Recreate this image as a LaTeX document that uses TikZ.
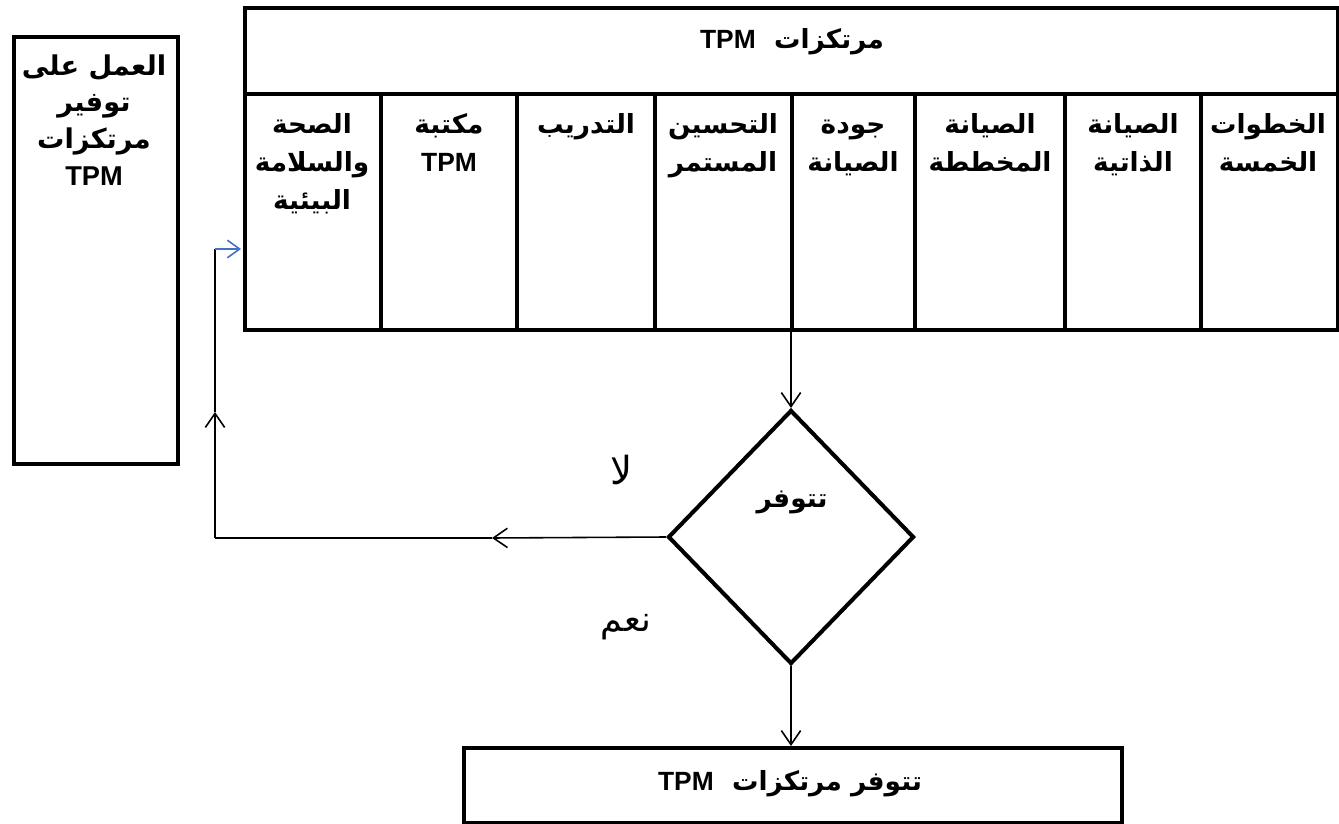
\documentclass[tikz,border=0pt]{standalone}
\usepackage{fontspec}
\setmainfont{Liberation Sans}
\newfontfamily\arabicfont[Script=Arabic]{DejaVu Sans}
\TeXXeTstate=1
\usetikzlibrary{shapes.geometric,arrows.meta}
\newcommand\artxt[1]{{\arabicfont\bfseries\beginR #1\endR}}
\newcommand\arplain[1]{{\arabicfont\beginR #1\endR}}
\newcommand\tpmtxt{\beginL{\normalfont\bfseries TPM}\endL}
\newcommand\lnstrut{\rule[-6pt]{0pt}{20pt}}
\definecolor{arrowblue}{HTML}{4472C4}
\tikzset{
  thickbox/.style={draw, line width=2.3pt, rectangle, inner sep=0pt},
  coltext/.style={anchor=north, align=center, inner sep=0pt, font=\fontsize{15}{21.5}\selectfont},
  arr/.style={line width=0.9pt, -{Straight Barb[length=8pt,width=11pt,line width=0.9pt]}},
  plainline/.style={line width=0.9pt},
  bluearr/.style={line width=0.9pt, draw=arrowblue, -{Straight Barb[length=7pt,width=10pt,line width=0.9pt]}},
}
\begin{document}
\begin{tikzpicture}[x=0.02cm,y=-0.02cm]
\useasboundingbox (0,0) rectangle (1339,824);
% main pillars box
\node[thickbox, minimum width=1093*0.02cm, minimum height=322*0.02cm, anchor=north west] (main) at (243,6) {};
\draw[line width=2.3pt] (243,94) -- (1336,94);
\foreach \x in {381,517,655,792,915,1065,1201}
  \draw[line width=2.3pt] (\x,94) -- (\x,328);
\node[font=\fontsize{15}{18}\selectfont, inner sep=0pt] (head) at (792,42) {\artxt{مرتكزات \ \tpmtxt}};
% column texts
\node[coltext] (c1) at (312,109) {\lnstrut\artxt{الصحة}\\\lnstrut\artxt{والسلامة}\\\lnstrut\artxt{البيئية}};
\node[coltext] (c2) at (449,109) {\lnstrut\artxt{مكتبة}\\\lnstrut\tpmtxt};
\node[coltext] (c3) at (586,109) {\lnstrut\artxt{التدريب}};
\node[coltext] (c4) at (723,109) {\lnstrut\artxt{التحسين}\\\lnstrut\artxt{المستمر}};
\node[coltext] (c5) at (853,109) {\lnstrut\artxt{جودة}\\\lnstrut\artxt{الصيانة}};
\node[coltext] (c6) at (990,109) {\lnstrut\artxt{الصيانة}\\\lnstrut\artxt{المخططة}};
\node[coltext] (c7) at (1133,109) {\lnstrut\artxt{الصيانة}\\\lnstrut\artxt{الذاتية}};
\node[coltext] (c8) at (1268,109) {\lnstrut\artxt{الخطوات}\\\lnstrut\artxt{الخمسة}};
% left box
\node[thickbox, minimum width=164*0.02cm, minimum height=427*0.02cm, anchor=north west] (left) at (12,35) {};
\node[anchor=north, align=center, inner sep=0pt, font=\fontsize{15.5}{21}\selectfont] (lefttext) at (94,54)
  {\artxt{العمل على}\\\artxt{توفير}\\\artxt{مرتكزات}\\\tpmtxt};
% decision diamond
\node[diamond, draw, line width=2.3pt, minimum width=246*0.02cm, minimum height=254*0.02cm, inner sep=0pt] (d) at (791,537) {};
\node[inner sep=0pt, font=\fontsize{15}{18}\selectfont] (dtext) at (792,502) {\artxt{تتوفر}};
% labels
\node[inner sep=0pt, font=\fontsize{22}{24}\selectfont] (no) at (622,470) {\arplain{لا}};
\node[inner sep=0pt, font=\fontsize{20}{24}\selectfont] (yes) at (626,627) {\arplain{نعم}};
% result box
\node[thickbox, minimum width=658*0.02cm, minimum height=75*0.02cm, anchor=north west] (res) at (462,746) {};
\node[inner sep=0pt, font=\fontsize{15}{18}\selectfont] (restext) at (790,784) {\artxt{تتوفر مرتكزات \ \tpmtxt}};
% connectors
\coordinate (noA) at (492,538);
\coordinate (corner) at (215,538);
\coordinate (upA) at (215,412);
\coordinate (turn) at (215,249);
\coordinate (inA) at (241,249);
\draw[arr] (main.south -| d.north) -- (d.north);
\draw[arr] (d.west) -- (noA);
\draw[plainline] (noA) -- (corner);
\draw[arr] (corner) -- (upA);
\draw[plainline] (upA) -- (turn);
\draw[bluearr] (turn) -- (inA);
\draw[arr] (d.south) -- (res.north -| d.south);
\end{tikzpicture}
\end{document}
